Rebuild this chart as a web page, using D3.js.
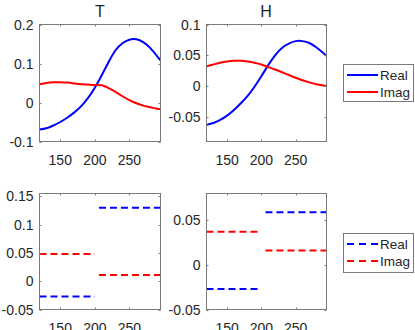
<!DOCTYPE html>
<html>
<head>
<meta charset="utf-8">
<script src="https://cdn.jsdelivr.net/npm/d3@7"></script>
<style>
  body { margin: 0; background: #fff; }
  text { font-family: "Liberation Sans", Arial, sans-serif; fill: #262626; }
</style>
</head>
<body>
<script>
const WIDTH = 415;
const HEIGHT = 330;

// frequency axis, shared by all four panels
const xTicks = [150, 200, 250];

// top row: smooth responses
const freq = [120, 130, 140, 150, 160, 170, 180, 190, 200, 210, 220, 230, 240, 250, 260, 270, 280, 290, 295];
const tReal = [-0.069, -0.066, -0.059, -0.050, -0.039, -0.026, -0.010, 0.011, 0.038, 0.070, 0.104, 0.134, 0.152, 0.161, 0.162, 0.155, 0.140, 0.119, 0.108];
const tImag = [0.047, 0.050, 0.052, 0.052, 0.051, 0.049, 0.047, 0.046, 0.045, 0.044, 0.037, 0.027, 0.016, 0.006, -0.002, -0.008, -0.012, -0.016, -0.017];
const hReal = [-0.063, -0.060, -0.055, -0.048, -0.039, -0.028, -0.016, -0.001, 0.016, 0.034, 0.050, 0.062, 0.069, 0.073, 0.073, 0.070, 0.063, 0.054, 0.049];
const hImag = [0.032, 0.035, 0.038, 0.040, 0.041, 0.041, 0.040, 0.038, 0.035, 0.031, 0.027, 0.0225, 0.018, 0.0135, 0.0095, 0.006, 0.003, 0.001, 0.000];

// bottom row: piecewise constant, two bands
const bands = [[120, 200], [206, 295]];
const tRealStep = [-0.027, 0.130];
const tImagStep = [0.048, 0.011];
const hRealStep = [-0.027, 0.059];
const hImagStep = [0.037, 0.016];

const svg = d3.select("body").append("svg")
    .attr("width", WIDTH).attr("height", HEIGHT);

// Draws one boxed panel with inward ticks, returns scales and group.
function drawPanel(box, yDomain, yTicks) {
    const x = d3.scaleLinear().domain([120, 295]).range([box.x0, box.x1]);
    const y = d3.scaleLinear().domain(yDomain).range([box.y1, box.y0]);
    const g = svg.append("g");

    const clip = "clip" + Math.round(box.x0) + "_" + Math.round(box.y0);
    g.append("clipPath").attr("id", clip).append("rect")
        .attr("x", box.x0).attr("y", box.y0)
        .attr("width", box.x1 - box.x0).attr("height", box.y1 - box.y0);
    const plot = g.append("g").attr("clip-path", "url(#" + clip + ")");

    const frame = g.append("g");
    frame.append("rect")
        .attr("x", box.x0).attr("y", box.y0)
        .attr("width", box.x1 - box.x0).attr("height", box.y1 - box.y0)
        .attr("fill", "none").attr("stroke", "#7a7a7a").attr("stroke-width", 1);

    xTicks.forEach(t => {
        const px = Math.round(x(t)) + 0.5;
        frame.append("line").attr("x1", px).attr("x2", px)
            .attr("y1", box.y1).attr("y2", box.y1 - 2).attr("stroke", "#7a7a7a");
        frame.append("line").attr("x1", px).attr("x2", px)
            .attr("y1", box.y0).attr("y2", box.y0 + 2).attr("stroke", "#7a7a7a");
        frame.append("text").attr("x", x(t)).attr("y", box.y1 + 23)
            .attr("text-anchor", "middle").attr("font-size", "14px").text(t);
    });

    yTicks.forEach(t => {
        const py = Math.round(y(t)) + 0.5;
        frame.append("line").attr("x1", box.x0).attr("x2", box.x0 + 2)
            .attr("y1", py).attr("y2", py).attr("stroke", "#7a7a7a");
        frame.append("line").attr("x1", box.x1).attr("x2", box.x1 - 2)
            .attr("y1", py).attr("y2", py).attr("stroke", "#7a7a7a");
        frame.append("text").attr("x", box.x0 - 6).attr("y", y(t) + 5)
            .attr("text-anchor", "end").attr("font-size", "14px").text(t);
    });

    return {x: x, y: y, plot: plot};
}

function drawCurve(p, values, color) {
    const line = d3.line()
        .x((d, i) => p.x(freq[i]))
        .y(d => p.y(d))
        .curve(d3.curveNatural);
    p.plot.append("path").datum(values)
        .attr("d", line)
        .attr("fill", "none").attr("stroke", color).attr("stroke-width", 2);
}

function drawSteps(p, values, color) {
    bands.forEach((b, i) => {
        p.plot.append("line")
            .attr("x1", p.x(b[0])).attr("x2", p.x(b[1]))
            .attr("y1", p.y(values[i])).attr("y2", p.y(values[i]))
            .attr("stroke", color).attr("stroke-width", 2)
            .attr("stroke-dasharray", "7,4");
    });
}

function drawLegend(x0, y0, w, h, rows, dashed) {
    const g = svg.append("g");
    g.append("rect").attr("x", x0 + 0.5).attr("y", y0 + 0.5)
        .attr("width", w).attr("height", h)
        .attr("fill", "#fff").attr("stroke", "#7a7a7a");
    rows.forEach((r, i) => {
        const ly = y0 + 11 + i * 17;
        g.append("line").attr("x1", x0 + 4).attr("x2", x0 + 35)
            .attr("y1", ly).attr("y2", ly)
            .attr("stroke", r.color).attr("stroke-width", 2)
            .attr("stroke-dasharray", dashed ? "7,5" : null);
        g.append("text").attr("x", x0 + 37).attr("y", ly + 5)
            .attr("font-size", "13.5px").text(r.name);
    });
}

// Titles
svg.append("text").attr("x", 100).attr("y", 17).attr("text-anchor", "middle")
    .attr("font-size", "16px").text("T");
svg.append("text").attr("x", 266).attr("y", 17).attr("text-anchor", "middle")
    .attr("font-size", "16px").text("H");

const pTL = drawPanel({x0: 39.5, x1: 160.5, y0: 24.5, y1: 141.5}, [-0.1, 0.2], [-0.1, 0, 0.1, 0.2]);
drawCurve(pTL, tReal, "#0000ff");
drawCurve(pTL, tImag, "#ff0000");

const pTR = drawPanel({x0: 206.5, x1: 326.5, y0: 24.5, y1: 141.5}, [-0.09, 0.1], [-0.05, 0, 0.05, 0.1]);
drawCurve(pTR, hReal, "#0000ff");
drawCurve(pTR, hImag, "#ff0000");

const pBL = drawPanel({x0: 39.5, x1: 160.5, y0: 193.5, y1: 309.5}, [-0.05, 0.155], [-0.05, 0, 0.05, 0.1, 0.15]);
drawSteps(pBL, tRealStep, "#0000ff");
drawSteps(pBL, tImagStep, "#ff0000");

const pBR = drawPanel({x0: 206.5, x1: 326.5, y0: 193.5, y1: 309.5}, [-0.05, 0.08], [-0.05, 0, 0.05]);
drawSteps(pBR, hRealStep, "#0000ff");
drawSteps(pBR, hImagStep, "#ff0000");

drawLegend(343, 64, 70, 37, [{name: "Real", color: "#0000ff"}, {name: "Imag", color: "#ff0000"}], false);
drawLegend(343, 233, 70, 39, [{name: "Real", color: "#0000ff"}, {name: "Imag", color: "#ff0000"}], true);
</script>
</body>
</html>
